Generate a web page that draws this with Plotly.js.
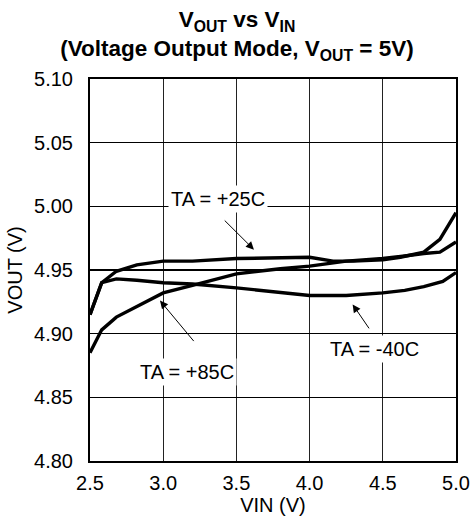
<!DOCTYPE html>
<html>
<head>
<meta charset="utf-8">
<script src="https://cdn.plot.ly/plotly-3.0.1.min.js"></script>
<style>html,body{margin:0;padding:0;background:#fff;}#chart{width:474px;height:520px;}</style>
</head>
<body>
<div id="chart"></div>
<script>
// ---- data ----
const vin25 = [2.5, 2.58, 2.68, 2.82, 3.0, 3.2, 3.5, 3.8, 4.0, 4.16, 4.3, 4.5, 4.62, 4.78, 4.89, 5.0];
const vout25 = [4.915, 4.940, 4.949, 4.954, 4.957, 4.957, 4.959, 4.960, 4.960, 4.957, 4.957, 4.958, 4.960, 4.964, 4.974, 4.995];

const vinM40 = [2.5, 2.58, 2.68, 2.82, 3.0, 3.2, 3.5, 3.8, 4.0, 4.25, 4.5, 4.65, 4.78, 4.91, 5.0];
const voutM40 = [4.915, 4.940, 4.943, 4.942, 4.940, 4.939, 4.936, 4.932, 4.930, 4.930, 4.932, 4.934, 4.937, 4.941, 4.948];

const vin85 = [2.5, 2.58, 2.68, 2.85, 3.0, 3.2, 3.5, 3.8, 4.0, 4.25, 4.5, 4.65, 4.78, 4.89, 5.0];
const vout85 = [4.885, 4.903, 4.913, 4.923, 4.932, 4.938, 4.947, 4.951, 4.953, 4.957, 4.959, 4.961, 4.963, 4.964, 4.972];

const seriesNames = ['TA = +25C', 'TA = +85C', 'TA = -40C'];
const xTickVals = [2.5, 3.0, 3.5, 4.0, 4.5, 5.0];
const xTickText = ['2.5', '3.0', '3.5', '4.0', '4.5', '5.0'];
const yTickVals = [4.80, 4.85, 4.90, 4.95, 5.00, 5.05, 5.10];
const yTickText = ['4.80', '4.85', '4.90', '4.95', '5.00', '5.05', '5.10'];

// label placement (text position, arrow tail, arrow tip) in data units
const labelPos = [
  {text: seriesNames[0], x: 3.371, y: 5.006, ax: 3.410, ay: 4.990, tx: 3.620, ty: 4.966},
  {text: seriesNames[1], x: 3.163, y: 4.870, ax: 3.217, ay: 4.893, tx: 2.978, ty: 4.926},
  {text: seriesNames[2], x: 4.440, y: 4.888, ax: 4.413, ay: 4.903, tx: 4.294, ty: 4.923}
];

const FONT = 'Liberation Sans, Arial, sans-serif';
const lineStyle = {color: '#000', width: 3.4};

const traces = [
  {x: vin25, y: vout25, name: seriesNames[0], mode: 'lines', line: lineStyle},
  {x: vin85, y: vout85, name: seriesNames[1], mode: 'lines', line: lineStyle},
  {x: vinM40, y: voutM40, name: seriesNames[2], mode: 'lines', line: lineStyle}
];

const annotations = [];
labelPos.forEach(l => {
  annotations.push({
    xref: 'x', yref: 'y', axref: 'x', ayref: 'y',
    x: l.tx, y: l.ty, ax: l.ax, ay: l.ay,
    text: '', showarrow: true,
    arrowhead: 2, arrowsize: 1.6, arrowwidth: 1, arrowcolor: '#000',
    standoff: 0, startstandoff: 0
  });
  annotations.push({
    xref: 'x', yref: 'y', x: l.x, y: l.y, text: l.text,
    showarrow: false, bgcolor: '#fff', borderpad: 2,
    font: {family: FONT, size: 20, color: '#000'}
  });
});

const layout = {
  width: 474, height: 520,
  margin: {l: 90, r: 18, t: 79, b: 59},
  paper_bgcolor: '#fff', plot_bgcolor: '#fff',
  showlegend: false,
  font: {family: FONT, size: 20, color: '#000'},
  title: {
    text: '<b>V<sub>OUT</sub> vs V<sub>IN</sub><br>(Voltage Output Mode, V<sub>OUT</sub> = 5V)</b>',
    font: {family: FONT, size: 22.5, color: '#000'},
    x: 0.5, xanchor: 'center', yref: 'container', y: 0.948, yanchor: 'middle'
  },
  xaxis: {
    range: [2.5, 5.0], tickvals: xTickVals, ticktext: xTickText,
    showgrid: true, gridcolor: '#222', gridwidth: 1.3,
    showline: true, linecolor: '#000', linewidth: 2, mirror: true,
    zeroline: false, ticks: '', ticklabelstandoff: 3,
    title: {text: 'VIN (V)', font: {family: FONT, size: 20}, standoff: 4},
    tickfont: {family: FONT, size: 20}
  },
  yaxis: {
    range: [4.80, 5.10], tickvals: yTickVals, ticktext: yTickText,
    showgrid: true, gridcolor: '#000', gridwidth: 1.3,
    showline: true, linecolor: '#000', linewidth: 2, mirror: true,
    zeroline: false, ticks: '', ticklabelstandoff: 11,
    title: {text: 'VOUT (V)', font: {family: FONT, size: 20}, standoff: 6},
    tickfont: {family: FONT, size: 20}
  },
  annotations: annotations
};

Plotly.newPlot('chart', traces, layout, {displayModeBar: false, staticPlot: true});
</script>
</body>
</html>
